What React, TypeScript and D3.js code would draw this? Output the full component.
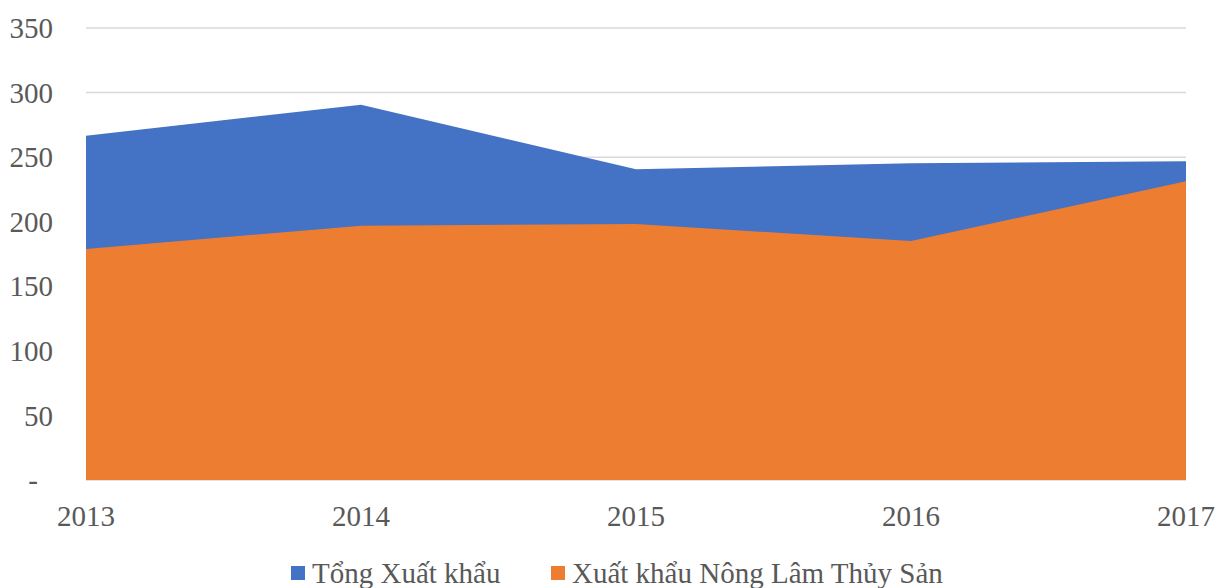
import * as d3 from "d3";

const years = ["2013", "2014", "2015", "2016", "2017"];
const tongXuatKhau = [266.6, 290.6, 240.6, 245.2, 246.8];
const nongLamThuySan = [178.9, 196.9, 198.2, 185.1, 231.3];
const yTicks = [0, 50, 100, 150, 200, 250, 300, 350];
const seriesNames = ["Tổng Xuất khẩu", "Xuất khẩu Nông Lâm Thủy Sản"];
const colors = ["#4472C4", "#ED7D31"];

const W = 1219;
const H = 588;
const FONT = "'Liberation Serif', 'Times New Roman', serif";
const FS = 29;

const App = () => {
    // plot area
    const left = 86;
    const right = 1186;
    const top = 28;
    const bottom = 480;

    const x = d3.scalePoint<string>().domain(years).range([left, right]);
    const y = d3.scaleLinear().domain([0, 350]).range([bottom, top]);

    const area = d3
        .area<number>()
        .x((_, i) => x(years[i]) as number)
        .y0(y(0))
        .y1((d) => y(d));

    const fmt = (v: number) => (v === 0 ? "-" : String(v));

    return (
        <svg
            width={W}
            height={H}
            style={{ position: "absolute", left: 0, top: 0, background: "#fff" }}
            fontFamily={FONT}
        >
            {/* gridlines */}
            {yTicks.map((t) => (
                <line
                    key={t}
                    x1={left}
                    x2={right}
                    y1={y(t)}
                    y2={y(t)}
                    stroke="#d9d9d9"
                    strokeWidth={1.5}
                />
            ))}

            {/* areas: total behind, agri/forestry/fishery in front */}
            <path d={area(tongXuatKhau) || ""} fill={colors[0]} />
            <path d={area(nongLamThuySan) || ""} fill={colors[1]} />

            {/* y-axis labels */}
            {yTicks.map((t) => (
                <text
                    key={t}
                    x={t === 0 ? 38 : 53}
                    y={y(t)}
                    dy="0.35em"
                    textAnchor="end"
                    fontSize={FS}
                    fill="#595959"
                >
                    {fmt(t)}
                </text>
            ))}

            {/* x-axis labels */}
            {years.map((yr) => (
                <text
                    key={yr}
                    x={x(yr)}
                    y={526}
                    textAnchor="middle"
                    fontSize={FS}
                    fill="#595959"
                >
                    {yr}
                </text>
            ))}

            {/* legend */}
            {seriesNames.map((name, i) => {
                const lx = i === 0 ? 291 : 551;
                return (
                    <g key={name}>
                        <rect x={lx} y={566} width={14} height={14} fill={colors[i]} />
                        <text x={lx + 21} y={583} fontSize={FS} fill="#595959">
                            {name}
                        </text>
                    </g>
                );
            })}
        </svg>
    );
};

export default App;
